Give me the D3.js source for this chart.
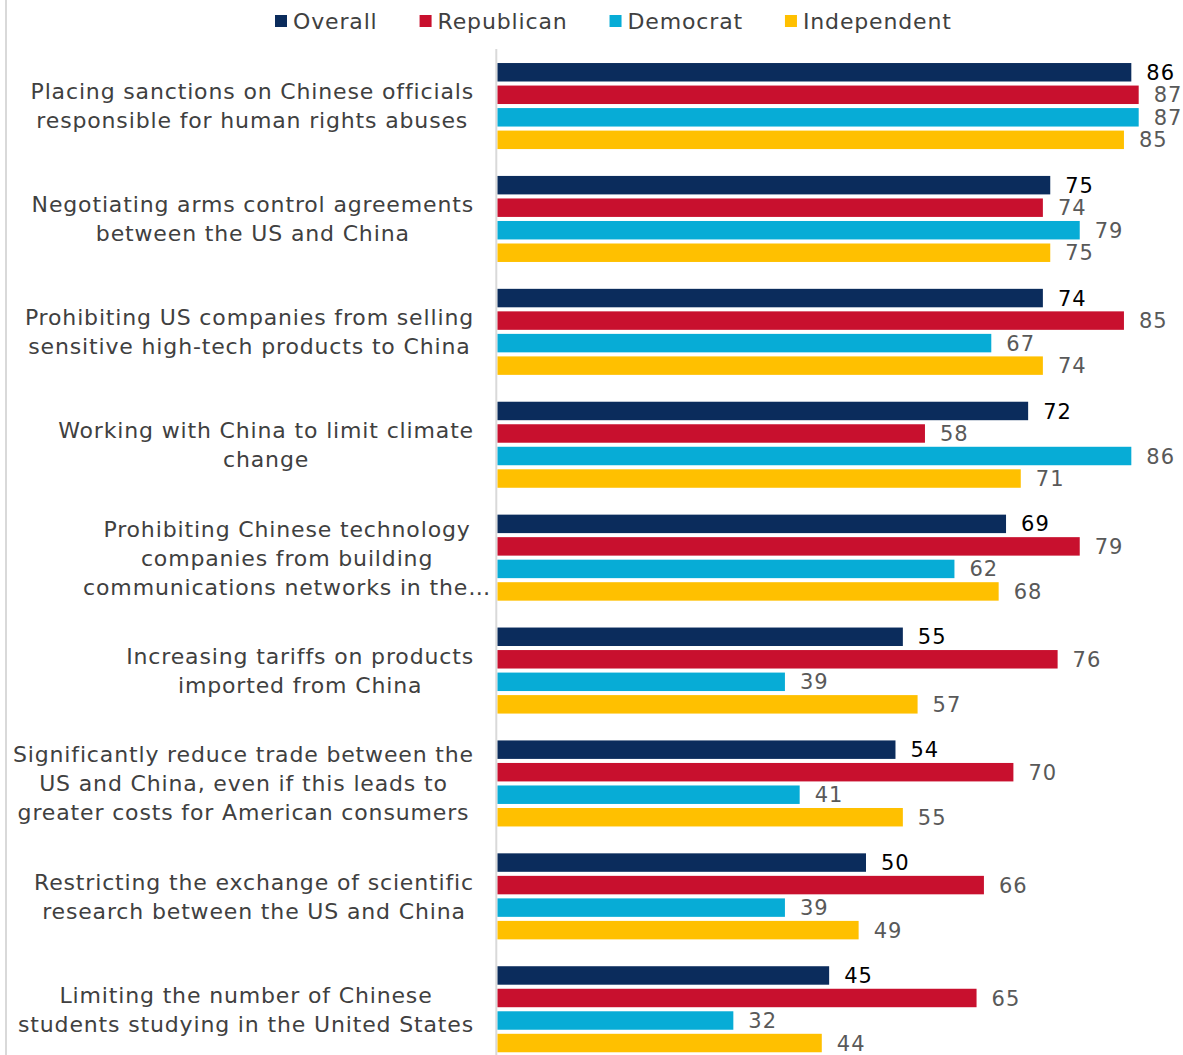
<!DOCTYPE html>
<html>
<head>
<meta charset="utf-8">
<script src="https://cdn.jsdelivr.net/npm/d3@7"></script>
<style>
  html, body { margin: 0; padding: 0; background: #fff; }
  svg { display: block; }
</style>
</head>
<body>
<svg id="chart" width="1183" height="1055"></svg>
<script>
// ---- data ----
const categories = [
  ["Placing sanctions on Chinese officials", "responsible for human rights abuses"],
  ["Negotiating arms control agreements", "between the US and China"],
  ["Prohibiting US companies from selling", "sensitive high-tech products to China"],
  ["Working with China to limit climate", "change"],
  ["Prohibiting Chinese technology", "companies from building", "communications networks in the…"],
  ["Increasing tariffs on products", "imported from China"],
  ["Significantly reduce trade between the", "US and China, even if this leads to", "greater costs for American consumers"],
  ["Restricting the exchange of scientific", "research between the US and China"],
  ["Limiting the number of Chinese", "students studying in the United States"]
];
const seriesNames = ["Overall", "Republican", "Democrat", "Independent"];
const overall     = [86, 75, 74, 72, 69, 55, 54, 50, 45];
const republican  = [87, 74, 85, 58, 79, 76, 70, 66, 65];
const democrat    = [87, 79, 67, 86, 62, 39, 41, 39, 32];
const independent = [85, 75, 74, 71, 68, 57, 55, 49, 44];
const seriesValues = [overall, republican, democrat, independent];
const colors = ["#0b2c5c", "#c8102e", "#07acd6", "#ffc000"];

// ---- layout ----
const FONT = "'DejaVu Sans', sans-serif";
const FS = 22;
const LS = "0.85px";
const svg = d3.select("#chart");
const catKeys = categories.map((c, i) => "c" + i);

const x = d3.scaleLinear().domain([0, 100]).range([497.5, 497.5 + 737]);
const y0 = d3.scaleBand().domain(catKeys).range([49.6, 49.6 + 9 * 112.9])
  .paddingInner(0.238).paddingOuter(0.119);
const y1 = d3.scaleBand().domain(seriesNames).range([0, y0.bandwidth()])
  .paddingInner(0.18).paddingOuter(0);

// frame line on left
svg.append("line").attr("x1", 6).attr("x2", 6).attr("y1", 0).attr("y2", 1055)
  .attr("stroke", "#d9d9d9").attr("stroke-width", 2);

// axis line
svg.append("line").attr("x1", 496.3).attr("x2", 496.3).attr("y1", 49).attr("y2", 1055)
  .attr("stroke", "#d9d9d9").attr("stroke-width", 2);

// bars
const groups = svg.append("g").selectAll("g").data(catKeys).join("g")
  .attr("transform", k => `translate(0,${y0(k)})`);

groups.each(function(k, ci) {
  const g = d3.select(this);
  const rows = seriesNames.map((s, si) => ({ s, si, v: seriesValues[si][ci] }));
  g.selectAll("rect").data(rows).join("rect")
    .attr("x", x(0))
    .attr("y", d => y1(d.s))
    .attr("width", d => x(d.v) - x(0))
    .attr("height", y1.bandwidth())
    .attr("fill", d => colors[d.si]);
  g.selectAll("text.val").data(rows).join("text")
    .attr("class", "val")
    .attr("x", d => x(d.v) + 15)
    .attr("y", d => y1(d.s) + y1.bandwidth() / 2)
    .attr("dy", "0.36em")
    .attr("font-family", FONT)
    .attr("font-size", 21)
    .attr("letter-spacing", "1px")
    .attr("fill", d => d.si === 0 ? "#000" : "#595959")
    .text(d => d.v);
});

// category labels
const lineH = 29;
categories.forEach((lines, ci) => {
  const cy = y0(catKeys[ci]) + y0.bandwidth() / 2;
  const g = svg.append("g");
  const texts = lines.map((ln, li) => g.append("text")
    .attr("font-family", FONT).attr("font-size", FS).attr("fill", "#404040")
    .attr("letter-spacing", LS)
    .attr("text-anchor", "middle")
    .attr("y", cy + (li - (lines.length - 1) / 2) * lineH)
    .attr("dy", "0.36em")
    .text(ln));
  const maxW = d3.max(texts, t => t.node().getComputedTextLength());
  const right = lines[lines.length - 1].endsWith("…") ? 491 : 474;
  texts.forEach(t => t.attr("x", right - maxW / 2));
});

// legend
const lg = svg.append("g");
let lx = 275;
seriesNames.forEach((s, i) => {
  lg.append("rect").attr("x", lx).attr("y", 15).attr("width", 12).attr("height", 12)
    .attr("fill", colors[i]);
  const t = lg.append("text").attr("x", lx + 18).attr("y", 21).attr("dy", "0.36em")
    .attr("font-family", FONT).attr("font-size", FS).attr("letter-spacing", LS)
    .attr("fill", "#404040").text(s);
  lx += 18 + t.node().getComputedTextLength() + 42;
});
</script>
</body>
</html>
